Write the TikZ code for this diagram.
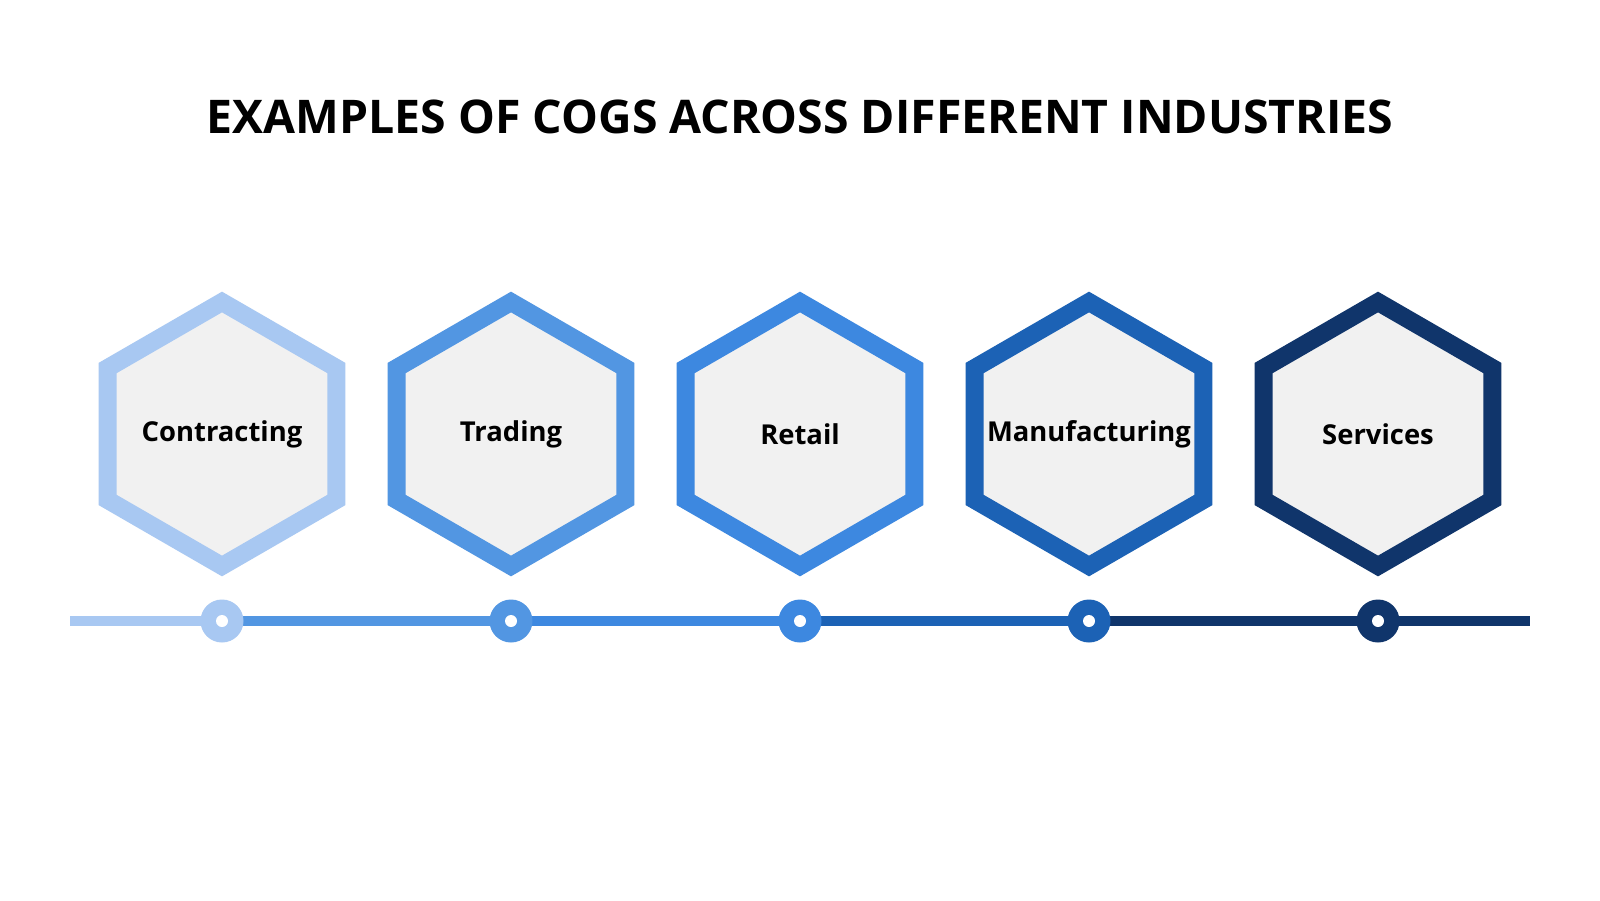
\documentclass[tikz,border=0pt]{standalone}
\usepackage{fontspec}
\setmainfont{Open Sans}
\definecolor{hexA}{HTML}{A8C8F2}
\definecolor{hexB}{HTML}{5296E2}
\definecolor{hexC}{HTML}{3D88E0}
\definecolor{hexD}{HTML}{1C62B5}
\definecolor{hexE}{HTML}{10356B}
\definecolor{hexfill}{HTML}{F1F1F1}
\tikzset{
  hexbox/.style={line width=5.1pt, fill=hexfill, line join=miter},
  dotmark/.style={fill=#1, circle, inner sep=0pt, minimum size=0.43cm},
  hextext/.style={font=\bfseries\fontsize{7.8}{10}\selectfont}
}
\begin{document}
\begin{tikzpicture}
  \fill[white] (0,0) rectangle (16,9);
  \node[font=\bfseries\fontsize{13.2}{16}\selectfont] (title) at (8.0,7.83) {EXAMPLES OF COGS ACROSS DIFFERENT INDUSTRIES};
  % timeline
  \coordinate (start) at (0.70,2.79);
  \coordinate (end) at (15.30,2.79);
  \foreach \i/\x/\col/\txt in {1/2.22/hexA/Contracting, 2/5.11/hexB/Trading, 3/8.00/hexC/Retail, 4/10.89/hexD/Manufacturing, 5/13.78/hexE/Services} {
    \draw[hexbox, draw=\col] (\x,5.98) -- ++(-30:1.32) -- ++(-90:1.32) -- ++(-150:1.32) -- ++(150:1.32) -- ++(90:1.32) -- cycle;
    \node[hextext] (hex\i) at (\x,4.66) {\txt};
    \coordinate (dot\i) at (\x,2.79);
  }
  \draw[line width=2.6pt, hexA] (start) -- (dot1);
  \draw[line width=2.6pt, hexB] (dot1) -- (dot2);
  \draw[line width=2.6pt, hexC] (dot2) -- (dot3);
  \draw[line width=2.6pt, hexD] (dot3) -- (dot4);
  \draw[line width=2.6pt, hexE] (dot4) -- (end);
  \foreach \i/\col in {1/hexA, 2/hexB, 3/hexC, 4/hexD, 5/hexE} {
    \node[dotmark=\col] at (dot\i) {};
    \fill[white] (dot\i) circle (0.06);
  }
\end{tikzpicture}
\end{document}
